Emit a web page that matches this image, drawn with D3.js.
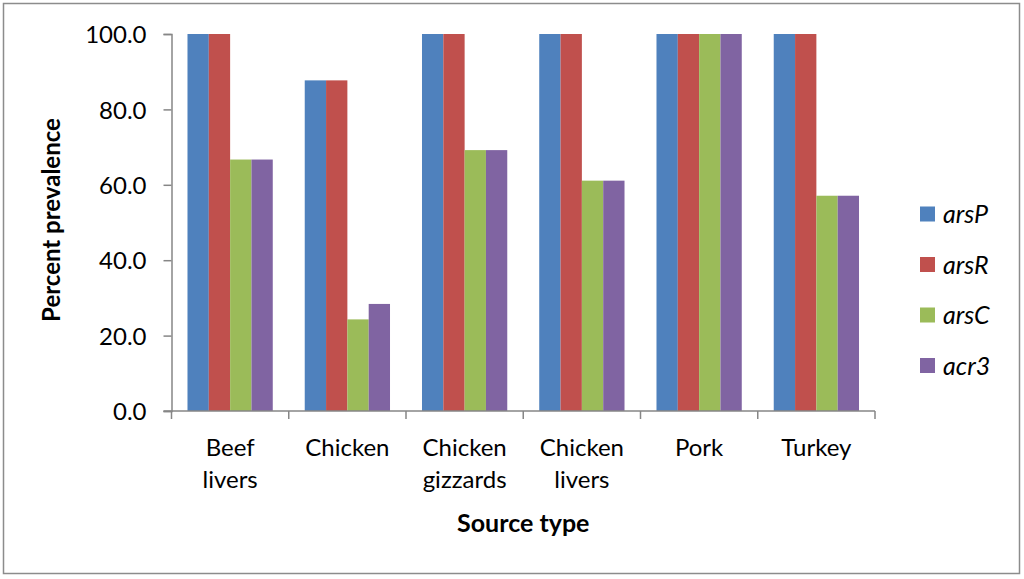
<!DOCTYPE html>
<html>
<head>
<meta charset="utf-8">
<script src="https://cdn.jsdelivr.net/npm/d3@7"></script>
<style>
  html, body { margin: 0; padding: 0; background: #fff; }
  svg text { font-family: Lato, "Open Sans", sans-serif; fill: #000; }
</style>
</head>
<body>
<div id="chart"></div>
<script>
const categories = [["Beef", "livers"], ["Chicken"], ["Chicken", "gizzards"], ["Chicken", "livers"], ["Pork"], ["Turkey"]];
const seriesNames = ["arsP", "arsR", "arsC", "acr3"];
const arsP = [100, 87.7, 100, 100, 100, 100];
const arsR = [100, 87.7, 100, 100, 100, 100];
const arsC = [66.7, 24.3, 69.2, 61.1, 100, 57.1];
const acr3 = [66.7, 28.4, 69.2, 61.1, 100, 57.1];
const yTicks = [0, 20, 40, 60, 80, 100];
const colors = ["#4F81BD", "#C0504D", "#9BBB59", "#8064A2"];

const width = 1024, height = 579;
const seriesValues = [arsP, arsR, arsC, acr3];
const catKeys = categories.map(c => c.join(" "));

// plot area
const plot = {left: 171.5, right: 875, top: 34, bottom: 411};

const svg = d3.select("#chart").append("svg")
  .attr("width", width)
  .attr("height", height);

// outer frame
svg.append("rect")
  .attr("x", 3.5).attr("y", 3.5)
  .attr("width", 1016).attr("height", 570)
  .attr("fill", "#fff")
  .attr("stroke", "#8c8c8c")
  .attr("stroke-width", 1.5);

const x = d3.scaleBand()
  .domain(catKeys)
  .range([plot.left, plot.right])
  .paddingInner(0)
  .paddingOuter(0);

// Excel style: gap width 150% -> 4 bars + 1.5 bar widths of gap
const barW = x.bandwidth() / (seriesNames.length + 1.5);
const xs = d3.scaleBand()
  .domain(seriesNames)
  .range([barW * 0.75, barW * 0.75 + barW * seriesNames.length]);

const y = d3.scaleLinear()
  .domain([0, 100])
  .range([plot.bottom, plot.top]);

// bars
const groups = svg.append("g")
  .selectAll("g")
  .data(catKeys)
  .join("g")
  .attr("transform", d => `translate(${x(d)},0)`);

groups.selectAll("rect")
  .data((d, i) => seriesNames.map((s, j) => ({s: s, v: seriesValues[j][i], c: colors[j]})))
  .join("rect")
  .attr("x", d => xs(d.s))
  .attr("y", d => y(d.v))
  .attr("width", xs.bandwidth())
  .attr("height", d => y(0) - y(d.v))
  .attr("fill", d => d.c);

// y axis
const yAxis = svg.append("g")
  .attr("transform", `translate(${plot.left},0)`)
  .call(d3.axisLeft(y).tickValues(yTicks).tickFormat(d3.format(".1f")).tickSize(8).tickPadding(17));
yAxis.select(".domain").attr("stroke", "#868686").attr("stroke-width", 1.5);
yAxis.selectAll(".tick line").attr("stroke", "#868686").attr("stroke-width", 1.5);
yAxis.selectAll(".tick text")
  .style("font-family", "Lato, sans-serif")
  .attr("font-size", 24)
  .attr("dy", "0.36em")
  .attr("fill", "#000");

// x axis: ticks between categories
const boundaries = catKeys.map(k => x(k)).concat([plot.right]);
const xAxis = svg.append("g")
  .attr("transform", `translate(0,${plot.bottom})`);
xAxis.append("line")
  .attr("x1", plot.left - 8).attr("x2", plot.right)
  .attr("stroke", "#868686").attr("stroke-width", 1.5);
xAxis.selectAll("line.tk")
  .data(boundaries)
  .join("line")
  .attr("class", "tk")
  .attr("x1", d => d).attr("x2", d => d)
  .attr("y1", 0).attr("y2", 8)
  .attr("stroke", "#868686").attr("stroke-width", 1.5);

const catLabels = xAxis.selectAll("text.cat")
  .data(categories)
  .join("text")
  .attr("class", "cat")
  .attr("text-anchor", "middle")
  .attr("font-size", 24)
  .attr("transform", (d, i) => `translate(${x(catKeys[i]) + x.bandwidth() / 2},45)`);
catLabels.selectAll("tspan")
  .data(d => d)
  .join("tspan")
  .attr("x", 0)
  .attr("y", (d, i) => i * 32)
  .text(d => d);

// axis titles
svg.append("text")
  .attr("x", (plot.left + plot.right) / 2)
  .attr("y", 532)
  .attr("text-anchor", "middle")
  .attr("font-size", 25)
  .attr("font-weight", "bold")
  .text("Source type");

svg.append("text")
  .attr("transform", "translate(60,220) rotate(-90)")
  .attr("text-anchor", "middle")
  .attr("font-size", 24)
  .attr("font-weight", "bold")
  .text("Percent prevalence");

// legend
const legend = svg.append("g")
  .selectAll("g")
  .data(seriesNames)
  .join("g")
  .attr("transform", (d, i) => `translate(920,${214 + i * 50.5})`);
legend.append("rect")
  .attr("x", 0).attr("y", -7.5)
  .attr("width", 15).attr("height", 15)
  .attr("fill", (d, i) => colors[i]);
legend.append("text")
  .attr("x", 23)
  .attr("y", 0)
  .attr("dy", "0.36em")
  .attr("font-size", 25)
  .attr("font-style", "italic")
  .text(d => d);
</script>
</body>
</html>
